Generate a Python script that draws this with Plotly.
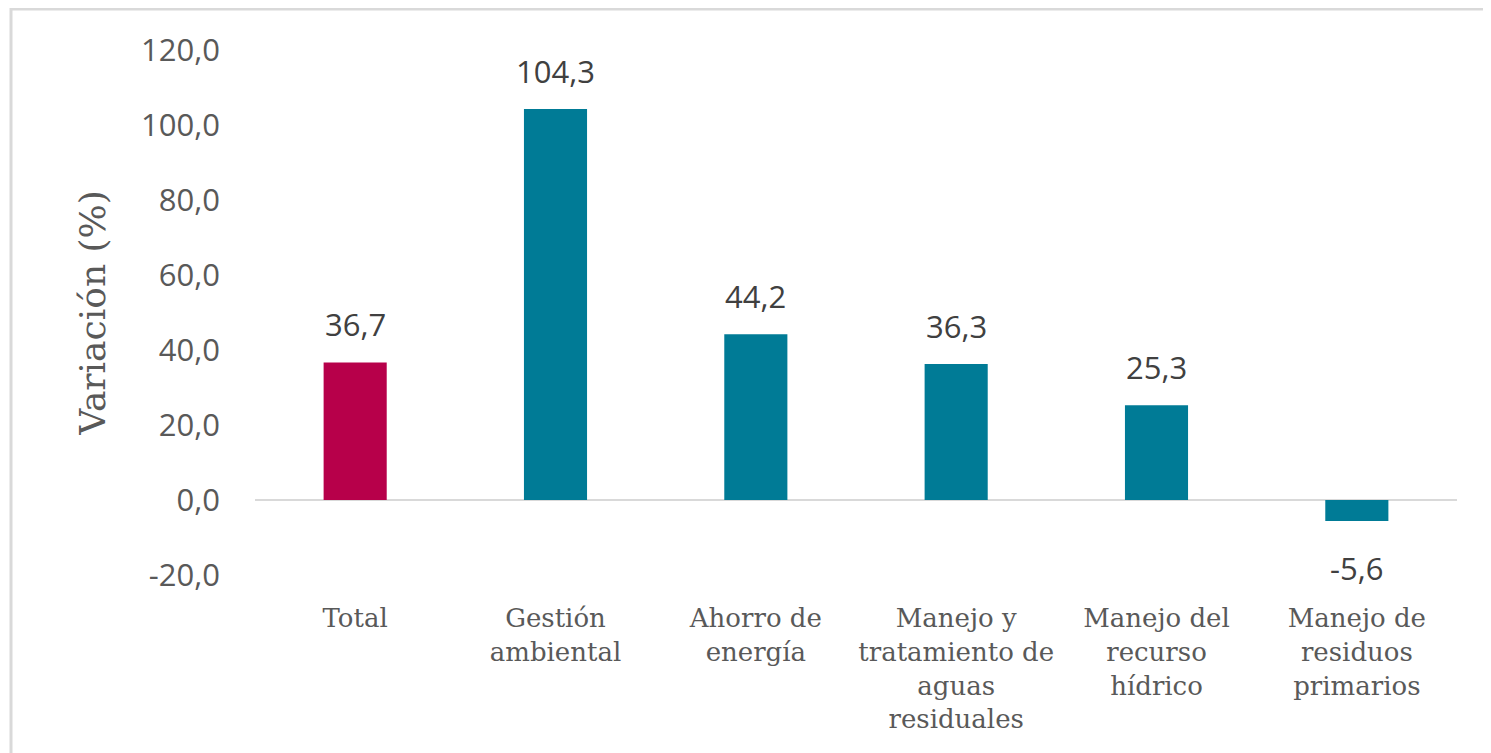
import plotly.graph_objects as go

categories = ["Total", "Gestión ambiental", "Ahorro de energía",
              "Manejo y tratamiento de aguas residuales",
              "Manejo del recurso hídrico", "Manejo de residuos primarios"]
tick_labels = ["Total", "Gestión<br>ambiental", "Ahorro de<br>energía",
               "Manejo y<br>tratamiento de<br>aguas<br>residuales",
               "Manejo del<br>recurso<br>hídrico",
               "Manejo de<br>residuos<br>primarios"]
values = [36.7, 104.3, 44.2, 36.3, 25.3, -5.6]
y_ticks = [-20, 0, 20, 40, 60, 80, 100, 120]
y_tick_labels = ["-20,0", "0,0", "20,0", "40,0", "60,0", "80,0", "100,0", "120,0"]

colors = ["#B7004A"] + ["#007B96"] * 5

W, H = 1491, 753
L, R, T, B = 247, 42, 42, 186
pw, ph = W - L - R, H - T - B

fig = go.Figure()
fig.add_trace(go.Bar(x=categories, y=values, marker=dict(color=colors, line=dict(width=0)),
                     width=0.315, hoverinfo="skip"))

for c, v in zip(categories, values):
    fig.add_annotation(x=c, y=v, text=f"{v:.1f}".replace(".", ","), showarrow=False,
                       yanchor="middle", yshift=38 if v >= 0 else -47,
                       font=dict(family="Open Sans", size=31, color="#404040"))

fig.update_layout(
    width=W, height=H,
    margin=dict(l=L, r=R, t=T, b=B),
    paper_bgcolor="white", plot_bgcolor="white",
    showlegend=False,
    xaxis=dict(tickmode="array", tickvals=categories, ticktext=tick_labels,
               showgrid=False, showline=False, ticks="",
               tickfont=dict(family="DejaVu Serif", size=26, color="#595959"),
               ticklabelstandoff=25, tickangle=0),
    yaxis=dict(range=[-20, 120], tickmode="array", tickvals=y_ticks, ticktext=y_tick_labels,
               showgrid=False, showline=False, ticks="",
               zeroline=True, zerolinecolor="#D9D9D9", zerolinewidth=2,
               tickfont=dict(family="Open Sans", size=31, color="#595959"),
               ticklabelstandoff=34,
               title=dict(text="Variación (%)", standoff=24,
                          font=dict(family="DejaVu Serif", size=36, color="#595959"))),
    shapes=[dict(type="rect", xref="paper", yref="paper",
                 x0=(3 - L) / pw, x1=(W + 40 - L) / pw,
                 y0=(T + ph - (H + 40)) / ph, y1=(T + ph - 1) / ph,
                 line=dict(color="#D9D9D9", width=3), fillcolor="rgba(0,0,0,0)", layer="below")],
)

fig.write_html("out.html")
